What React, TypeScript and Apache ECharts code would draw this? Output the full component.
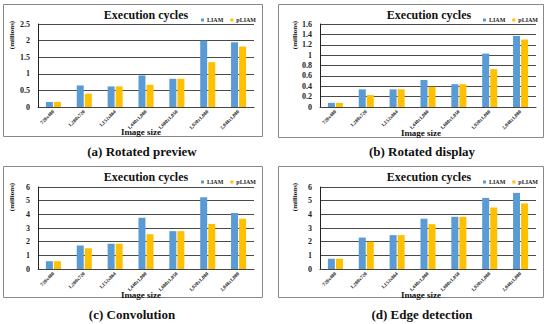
import React, { useEffect, useRef } from "react";
import * as echarts from "echarts";

const categories = ["720x480", "1,280x720", "1,152x864", "1,440x1,080", "1,680x1,050", "1,920x1,080", "2,048x1,080"];

const previewLIAM = [0.15, 0.65, 0.62, 0.95, 0.85, 2.0, 1.95];
const previewPLIAM = [0.15, 0.4, 0.62, 0.67, 0.85, 1.35, 1.82];
const displayLIAM = [0.08, 0.34, 0.34, 0.52, 0.44, 1.03, 1.37];
const displayPLIAM = [0.08, 0.23, 0.34, 0.39, 0.44, 0.73, 1.3];
const convLIAM = [0.57, 1.72, 1.85, 3.75, 2.77, 5.25, 4.1];
const convPLIAM = [0.57, 1.52, 1.85, 2.55, 2.77, 3.3, 3.68];
const edgeLIAM = [0.75, 2.3, 2.48, 3.68, 3.82, 5.2, 5.57];
const edgePLIAM = [0.75, 2.0, 2.48, 3.28, 3.82, 4.5, 4.8];

const yMax = [2.5, 1.6, 6, 6];
const yInterval = [0.5, 0.2, 1, 1];
const captions = ["(a) Rotated preview", "(b) Rotated display", "(c) Convolution", "(d) Edge detection"];
const seriesNames = ["LIAM", "pLIAM"];

const FONT = '"Liberation Serif", "Times New Roman", serif';
const BLUE = "#5B9BD5";
const YELLOW = "#FFC000";

export default function App() {
  const ref = useRef<HTMLDivElement>(null);
  useEffect(() => {
    const chart = echarts.init(ref.current!, null, { renderer: "svg" });
    const data = [
      [previewLIAM, previewPLIAM],
      [displayLIAM, displayPLIAM],
      [convLIAM, convPLIAM],
      [edgeLIAM, edgePLIAM],
    ];
    const grids = [
      { left: 38, right: 296, top: 24, bottom: 217 },
      { left: 320, right: 14, top: 24, bottom: 217 },
      { left: 38, right: 296, top: 187, bottom: 55 },
      { left: 320, right: 14, top: 187, bottom: 55 },
    ];
    const panels = [
      { bx: 3, by: 4, bw: 259, bh: 132, cx: 142, cy: 151, tx: 146, lx: 196, ix: 141, iy: 132 },
      { bx: 278, by: 4, bw: 265, bh: 133, cx: 422, cy: 151, tx: 429, lx: 478, ix: 421, iy: 133 },
      { bx: 3, by: 166, bw: 259, bh: 131, cx: 132, cy: 314, tx: 146, lx: 196, ix: 141, iy: 295 },
      { bx: 278, by: 166, bw: 265, bh: 131, cx: 422, cy: 314, tx: 429, lx: 478, ix: 421, iy: 295 },
    ];
    const xAxis = grids.map((_, i) => ({
      type: "category",
      gridIndex: i,
      data: categories,
      axisLine: { lineStyle: { color: "#444", width: 1 } },
      axisTick: { show: false },
      axisLabel: {
        interval: 0,
        rotate: 45,
        fontSize: 5,
        fontWeight: "bold",
        fontFamily: FONT,
        color: "#222",
        margin: 4,
      },
    }));
    const yAxis = grids.map((_, i) => ({
      type: "value",
      gridIndex: i,
      min: 0,
      max: yMax[i],
      interval: yInterval[i],
      axisLine: { show: true, lineStyle: { color: "#222" } },
      axisTick: { show: false },
      splitLine: { lineStyle: { color: "#4a4a4a", width: 1 } },
      axisLabel: { fontSize: 8, fontWeight: "bold", fontFamily: FONT, color: "#222", margin: 8 },
    }));
    const series: any[] = [];
    data.forEach((pair, i) => {
      pair.forEach((vals, j) => {
        series.push({
          type: "bar",
          name: seriesNames[j],
          xAxisIndex: i,
          yAxisIndex: i,
          data: vals,
          barWidth: 7,
          barGap: "15%",
          itemStyle: { color: j === 0 ? BLUE : YELLOW },
        });
      });
    });
    const legend = panels.map((p, i) => ({
      data: seriesNames,
      left: p.lx,
      top: i < 2 ? 12 : 174,
      itemWidth: 3,
      itemHeight: 3,
      itemGap: 7,
      icon: "rect",
      textStyle: { fontSize: 6, fontWeight: "bold", fontFamily: FONT, color: "#222", padding: [0, 0, 0, -2] },
    }));
    const graphic: any[] = [];
    panels.forEach((p, i) => {
      graphic.push({
        type: "rect",
        shape: { x: p.bx + 0.5, y: p.by + 0.5, width: p.bw, height: p.bh },
        style: { fill: "none", stroke: "#888", lineWidth: 1 },
        silent: true,
      });
      graphic.push({
        type: "text",
        x: p.tx,
        y: p.by + 11,
        style: {
          text: "Execution cycles",
          font: `bold 12px ${FONT}`,
          fill: "#111",
          textAlign: "center",
          textVerticalAlign: "middle",
        },
      });
      graphic.push({
        type: "text",
        x: p.ix,
        y: p.iy,
        style: {
          text: "Image size",
          font: `bold 9px ${FONT}`,
          fill: "#111",
          textAlign: "center",
          textVerticalAlign: "middle",
        },
      });
      graphic.push({
        type: "text",
        x: i % 2 === 0 ? 12 : 295,
        y: (i < 2 ? 4 : 166) + 31,
        rotation: Math.PI / 2,
        style: {
          text: "(millions)",
          font: `bold 7px ${FONT}`,
          fill: "#111",
          textAlign: "center",
          textVerticalAlign: "middle",
        },
      });
      graphic.push({
        type: "text",
        x: p.cx,
        y: p.cy,
        style: {
          text: captions[i],
          font: `bold 13px ${FONT}`,
          fill: "#111",
          textAlign: "center",
          textVerticalAlign: "middle",
        },
      });
    });
    chart.setOption({
      animation: false,
      backgroundColor: "#fff",
      grid: grids,
      xAxis,
      yAxis,
      series,
      legend,
      graphic,
    });
    return () => chart.dispose();
  }, []);
  return <div ref={ref} style={{ width: 550, height: 324, position: "absolute", left: 0, top: 0 }} />;
}
